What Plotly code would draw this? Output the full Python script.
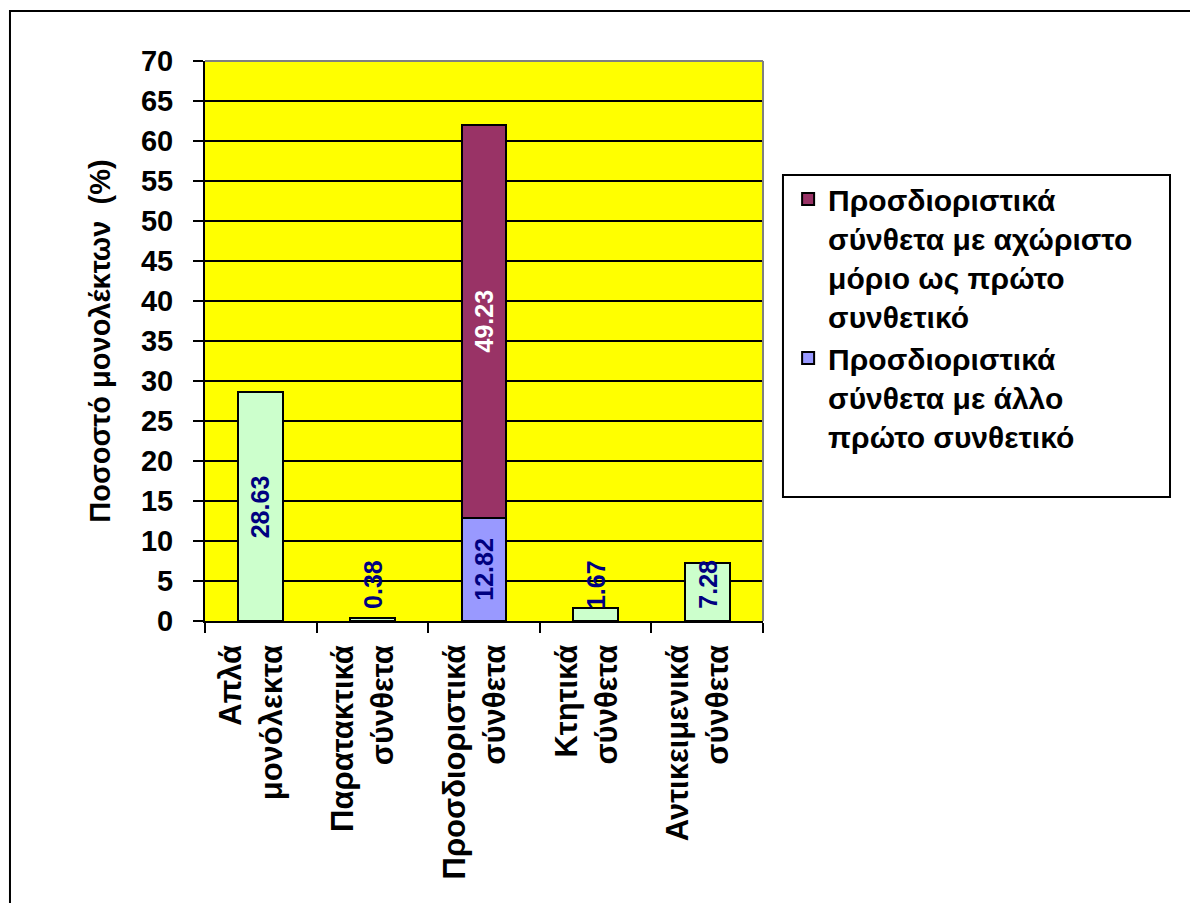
import plotly.graph_objects as go

categories = ["Απλά μονόλεκτα", "Παρατακτικά σύνθετα", "Προσδιοριστικά σύνθετα",
              "Κτητικά σύνθετα", "Αντικειμενικά σύνθετα"]
tick_text = ["Απλά<br>μονόλεκτα", "Παρατακτικά<br>σύνθετα", "Προσδιοριστικά<br>σύνθετα",
             "Κτητικά<br>σύνθετα", "Αντικειμενικά<br>σύνθετα"]
simple_values = [28.63, 0.38, None, 1.67, 7.28]
other_first_values = [None, None, 12.82, None, None]
inseparable_values = [None, None, 49.23, None, None]
name_other = "Προσδιοριστικά<br>σύνθετα με άλλο<br>πρώτο συνθετικό"
name_insep = "Προσδιοριστικά<br>σύνθετα με αχώριστο<br>μόριο ως πρώτο<br>συνθετικό"
y_title = "Ποσοστό μονολέκτων  (%)"

FONT = "Liberation Sans, Arial, sans-serif"
BIG = 29
TXT = 31
LEG = 30

fig = go.Figure()
fig.add_bar(x=categories, y=simple_values, marker=dict(color="#CCFFCC", line=dict(color="black", width=2)),
            width=0.4, showlegend=False)
fig.add_bar(x=categories, y=other_first_values, name=name_other,
            marker=dict(color="#9999FF", line=dict(color="black", width=2)), width=0.4)
fig.add_bar(x=categories, y=inseparable_values, name=name_insep,
            marker=dict(color="#993366", line=dict(color="black", width=2)), width=0.4)

# data labels
annotations = []
def add_label(cat, base, val, color):
    if val is None:
        return
    if val < 8:
        annotations.append(dict(x=cat, y=base, yanchor="bottom", yshift=10, text=f"{val:.2f}",
                                textangle=-90, showarrow=False,
                                font=dict(family=FONT, size=25, color=color, weight="bold")))
    else:
        annotations.append(dict(x=cat, y=base + val / 2, yanchor="middle", text=f"{val:.2f}",
                                textangle=-90, showarrow=False,
                                font=dict(family=FONT, size=25, color=color, weight="bold")))

for c, v in zip(categories, simple_values):
    add_label(c, 0, v, "#000080")
for c, v, w in zip(categories, other_first_values, inseparable_values):
    if v is not None:
        add_label(c, 0, v, "#000080")
        add_label(c, v, w, "white")

# category labels (rotated, right-aligned lines)
for c, t in zip(categories, tick_text):
    annotations.append(dict(x=c, y=0, yref="y", yanchor="top", xanchor="center", yshift=-22, xshift=-10,
                            text=t, textangle=-90, align="right", showarrow=False,
                            font=dict(family=FONT, size=TXT, color="black", weight="bold")))

shapes = [
    # plot area top/right gray border
    dict(type="line", xref="paper", yref="paper", x0=0, x1=1, y0=1, y1=1, line=dict(color="#808080", width=2), layer="above"),
    dict(type="line", xref="paper", yref="paper", x0=1, x1=1, y0=0, y1=1, line=dict(color="#808080", width=2), layer="above"),
    # legend box
    dict(type="rect", xref="paper", yref="paper", x0=1.0358, x1=1.7294, y0=0.2214, y1=0.7964,
         line=dict(color="black", width=2)),
    # outer chart border
    dict(type="rect", xref="paper", yref="paper", x0=-0.3495, x1=1.79, y0=-0.53, y1=1.0893,
         line=dict(color="black", width=2)),
]

fig.update_layout(
    width=1190, height=903,
    margin=dict(l=205, r=427, t=61, b=282),
    paper_bgcolor="white", plot_bgcolor="#FFFF00",
    barmode="stack", bargap=0.6,
    font=dict(family=FONT, size=BIG, color="black", weight="bold"),
    annotations=annotations, shapes=shapes,
    legend=dict(x=1.045, y=0.80, xanchor="left", yanchor="top", traceorder="reversed",
                valign="top", bgcolor="rgba(0,0,0,0)", borderwidth=0,
                font=dict(family=FONT, size=LEG, color="black", weight="bold"),
                tracegroupgap=0, itemwidth=30),
    xaxis=dict(type="category", showticklabels=False, ticks="outside", tickson="boundaries",
               ticklen=10, tickwidth=2, tickcolor="black", showline=True, linecolor="black",
               linewidth=2, showgrid=False, zeroline=False, fixedrange=True),
    yaxis=dict(range=[0, 70], dtick=5, tick0=0, ticks="outside", ticklen=10, tickwidth=2, tickcolor="black",
               showline=True, linecolor="black", linewidth=2, showgrid=True, gridcolor="black", gridwidth=2,
               zeroline=False, ticklabelstandoff=14,
               tickfont=dict(family=FONT, size=BIG, color="black", weight="bold"),
               title=dict(text=y_title, standoff=22,
                          font=dict(family=FONT, size=BIG, color="black", weight="bold"))),
)

fig.write_html("out.html")
